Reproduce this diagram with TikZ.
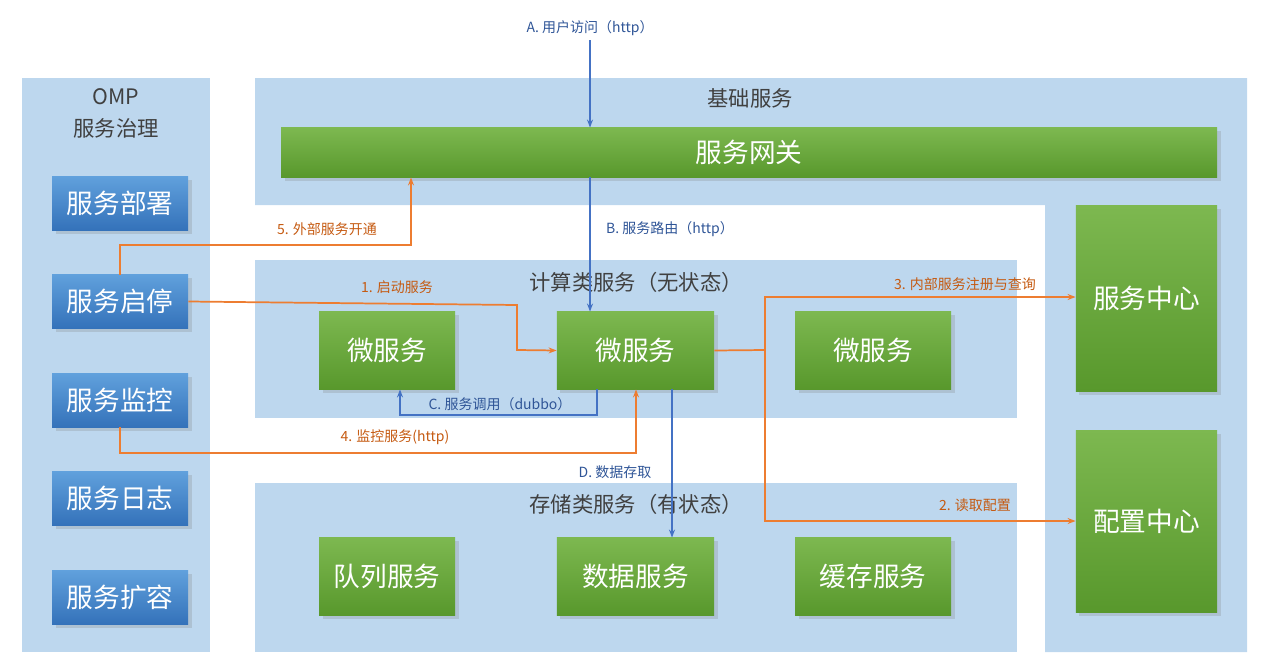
\documentclass[tikz,border=0pt]{standalone}
\usepackage{fontspec}
\setmainfont{Noto Sans CJK SC}
\usetikzlibrary{arrows.meta,shadows}
\definecolor{panelblue}{HTML}{BDD7EE}
\definecolor{lineorange}{HTML}{ED7D31}
\definecolor{lineblue}{HTML}{4472C4}
\definecolor{txtorange}{HTML}{C55A11}
\definecolor{txtblue}{HTML}{2F5597}
\tikzset{
  panel/.style={fill=panelblue,draw=none},
  gbox/.style={draw=none,top color=green!45!black!50!green!70,bottom color=green!50!black!80,
    top color={rgb,255:red,125;green,184;blue,80},bottom color={rgb,255:red,88;green,152;blue,44},
    text=white,font=\fontsize{20}{24}\selectfont,drop shadow={opacity=0.25}},
  bbox/.style={draw=none,top color={rgb,255:red,96;green,160;blue,220},bottom color={rgb,255:red,52;green,114;blue,186},
    text=white,font=\fontsize{20}{24}\selectfont,drop shadow={opacity=0.25}},
  ptitle/.style={font=\fontsize{16}{19}\selectfont,text={rgb,255:red,64;green,64;blue,64}},
  oarr/.style={draw=lineorange,line width=1.3pt,-{Stealth[length=6pt]}},
  barr/.style={draw=lineblue,line width=1.3pt,-{Stealth[length=6pt]}},
  olab/.style={font=\fontsize{10.5}{12}\selectfont,text=txtorange},
  blab/.style={font=\fontsize{10.5}{12}\selectfont,text=txtblue}
}
\begin{document}
\begin{tikzpicture}[x=0.75pt,y=0.75pt,yscale=-1,xscale=1]
\useasboundingbox (0,0) rectangle (1269,671);

% panels
\fill[panel] (22,78) rectangle (210,652);
\fill[panel] (255,78) -- (1247,78) -- (1247,652) -- (1045,652) -- (1045,205) -- (255,205) -- cycle;
\fill[panel] (255,260) rectangle (1017,418);
\fill[panel] (255,483) rectangle (1017,652);

\node[ptitle] (omp) at (116,97) {OMP};
\node[ptitle] (gov) at (116,128) {服务治理};
\node[ptitle] (base) at (750,98) {基础服务};
\node[ptitle] (comp) at (636,282) {计算类服务（无状态）};
\node[ptitle] (stor) at (636,504) {存储类服务（有状态）};

% boxes
\node[gbox,minimum width=702pt,minimum height=37pt] (gw) at (749,152.5) {服务网关};
\node[bbox,minimum width=102pt,minimum height=40pt] (deploy) at (120,203.5) {服务部署};
\node[bbox,minimum width=102pt,minimum height=40pt] (startstop) at (120,301.5) {服务启停};
\node[bbox,minimum width=102pt,minimum height=40pt] (monitor) at (120,400.5) {服务监控};
\node[bbox,minimum width=102pt,minimum height=40pt] (log) at (120,498.5) {服务日志};
\node[bbox,minimum width=102pt,minimum height=40pt] (scale) at (120,597.5) {服务扩容};
\node[gbox,minimum width=102pt,minimum height=58pt] (ms1) at (387,350.5) {微服务};
\node[gbox,minimum width=118pt,minimum height=58pt] (ms2) at (635.5,350.5) {微服务};
\node[gbox,minimum width=117pt,minimum height=58pt] (ms3) at (873,350.5) {微服务};
\node[gbox,minimum width=102pt,minimum height=58pt] (queue) at (387,576.5) {队列服务};
\node[gbox,minimum width=118pt,minimum height=58pt] (data) at (635.5,576.5) {数据服务};
\node[gbox,minimum width=117pt,minimum height=58pt] (cache) at (873,576.5) {缓存服务};
\node[gbox,minimum width=106pt,minimum height=139pt] (reg) at (1146.5,298.5) {服务中心};
\node[gbox,minimum width=106pt,minimum height=137pt] (conf) at (1146.5,521.5) {配置中心};

\coordinate (user) at (590,40);
\coordinate (split) at (765,350);

% blue connectors
\draw[barr] (user) -- (user |- gw.north);
\node[blab] (la) at (590,28) {A. 用户访问（http）};
\draw[barr] (gw.south -| 590,0) -- (ms2.north -| 590,0);
\node[blab] (lb) at (670,229) {B. 服务路由（http）};
\draw[barr] (ms2.south -| 597,0) -- (597,415) -- (400,415) -- (ms1.south -| 400,0);
\node[blab] (lc) at (500,404) {C. 服务调用（dubbo）};
\draw[barr] (ms2.south -| 672,0) -- (data.north -| 672,0);
\node[blab] (ld) at (615,472) {D. 数据存取};

% orange connectors
\draw[oarr] (startstop.east) -- (517,305) -- (517,350) -- (ms2.west);
\node[olab] (l1) at (397,287) {1. 启动服务};
\draw[oarr] (startstop.north) -- (120,245) -- (411,245) -- (gw.south -| 411,0);
\node[olab] (l5) at (327,229) {5. 外部服务开通};
\draw[oarr] (monitor.south) -- (120,453) -- (636,453) -- (ms2.south -| 636,0);
\node[olab] (l4) at (395,437) {4. 监控服务(http)};
\draw[oarr] (ms2.east) -- (split) -- (765,297) -- (reg.west |- 0,297);
\node[olab] (l3) at (965,284) {3. 内部服务注册与查询};
\draw[oarr] (split) -- (765,521) -- (conf.west |- 0,521);
\node[olab] (l2) at (975,505) {2. 读取配置};
\end{tikzpicture}
\end{document}
